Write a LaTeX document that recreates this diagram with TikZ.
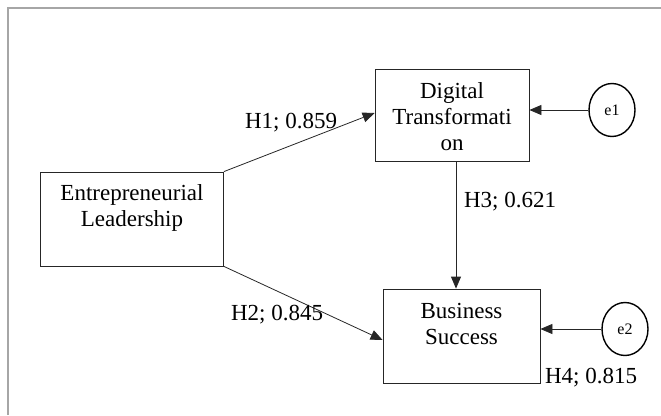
\documentclass[tikz,border=0pt]{standalone}
\usepackage{fontspec}
\setmainfont{Liberation Serif}
\usetikzlibrary{arrows.meta,shapes.geometric}

\begin{document}
\begin{tikzpicture}[x = 1pt, y = -1pt,
    every node/.style = {font = \fontsize{23}{26}\selectfont},
    construct/.style = {draw = black!85, line width = 0.8pt, inner sep = 0pt},
    errterm/.style = {ellipse, draw = black, line width = 1.4pt, inner sep = 0pt,
        minimum width = 46pt, minimum height = 53pt, font = \fontsize{16}{18}\selectfont},
    effect/.style = {draw = black!85, line width = 0.8pt, -{Triangle[length = 12pt, width = 10pt]}}]
    \useasboundingbox (0,0) rectangle (661,415);
    \draw[gray!70, line width = 1.4pt] (8,415) -- (8,8) -- (661,8);

    \node[construct, minimum width = 183pt, minimum height = 94pt,
        label = {[anchor = north, yshift = -12.5pt, align = center, inner sep = 0pt]north:Entrepreneurial\\Leadership}]
        (lead) at (132,219) {};
    \node[construct, minimum width = 154pt, minimum height = 92pt,
        label = {[anchor = north, yshift = -13.5pt, align = center, inner sep = 0pt]north:Digital\\Transformati\\on}]
        (digit) at (452,115) {};
    \node[construct, minimum width = 157pt, minimum height = 94pt,
        label = {[anchor = north, yshift = -14.5pt, align = center, inner sep = 0pt]north:Business\\Success}]
        (success) at (461.5,336) {};
    \node[errterm] (e1) at (612,110) {e1};
    \node[errterm] (e2) at (625,329) {e2};

    \draw[effect] (lead.north east) -- ([yshift = 2pt]digit.west);
    \draw[effect] (lead.south east) -- ([yshift = -4pt]success.west);
    \draw[effect] ([xshift = 4pt]digit.south) -- ([xshift = 4pt]digit.south |- success.north);
    \draw[effect] (e1.west) -- (digit.east |- e1.west);
    \draw[effect] (e2.west) -- (success.east |- e2.west);

    \node (h1) at (291,123) {H1; 0.859};
    \node (h2) at (277,315) {H2; 0.845};
    \node (h3) at (510,202) {H3; 0.621};
    \node (h4) at (591,378) {H4; 0.815};
\end{tikzpicture}
\end{document}
